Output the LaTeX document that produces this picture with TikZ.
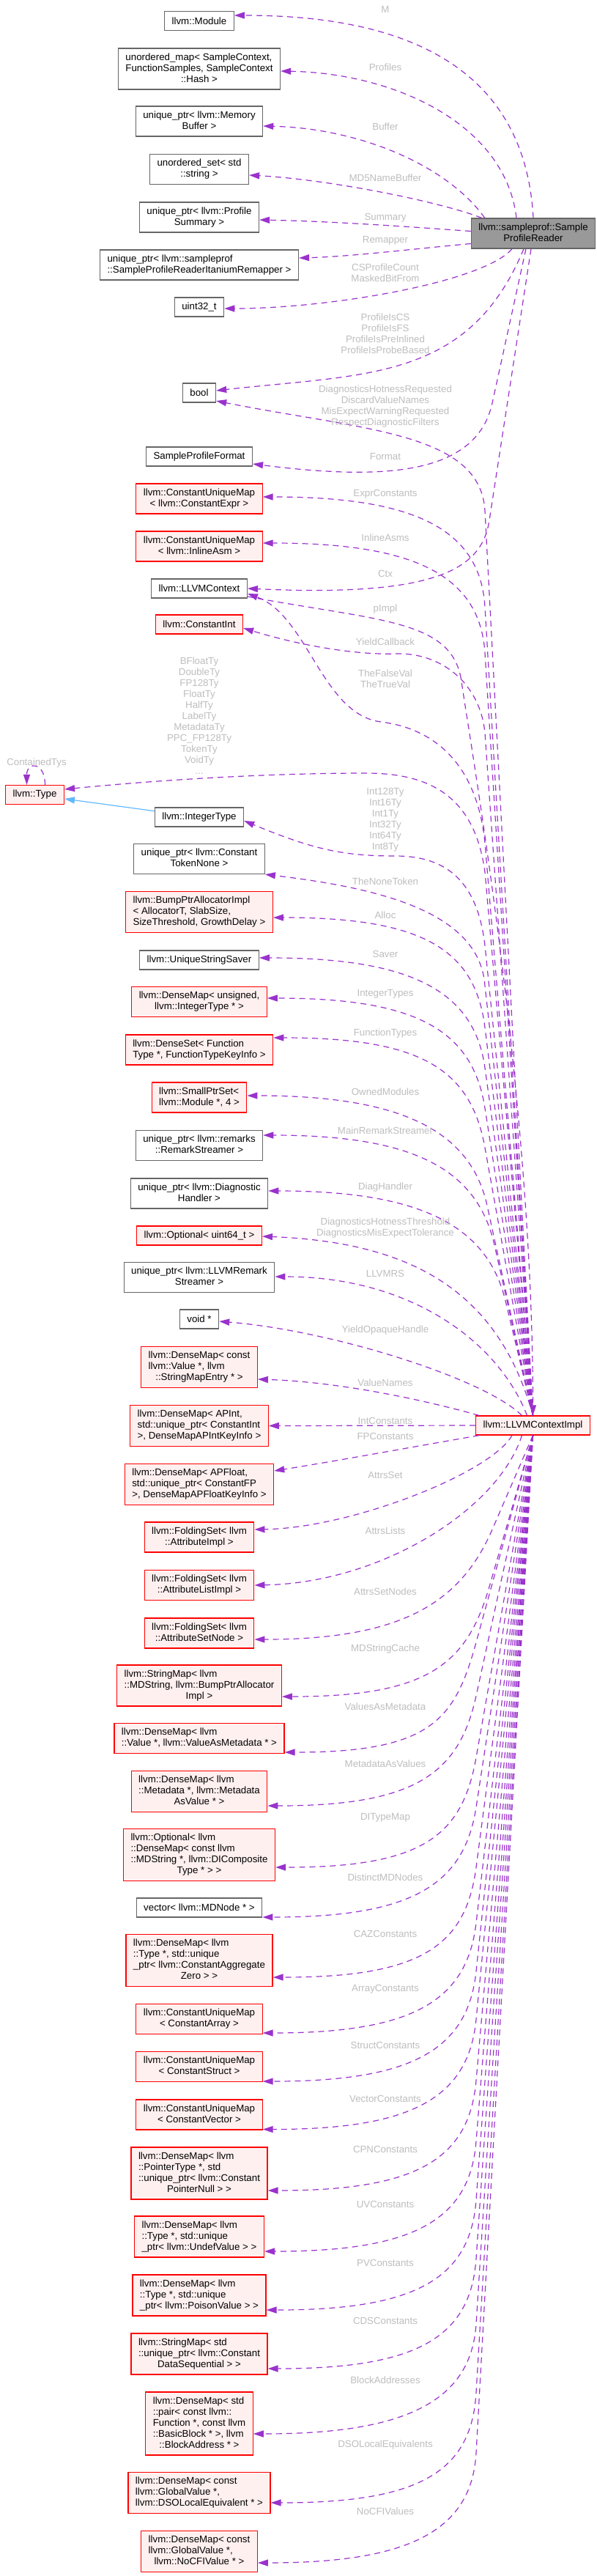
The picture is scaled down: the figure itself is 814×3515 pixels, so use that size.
\documentclass[tikz,border=0pt]{standalone}
\usepackage{fontspec}
\setmainfont{Liberation Sans}
\usetikzlibrary{arrows.meta,calc}

\definecolor{depc}{HTML}{9A32CD}
\definecolor{inhc}{HTML}{63B8FF}
\definecolor{lblc}{HTML}{BEBEBE}
\definecolor{redfill}{HTML}{FFF0F0}
\definecolor{grayline}{HTML}{666666}
\definecolor{grayfill}{HTML}{999999}

\newcommand{\dfont}{\fontsize{13.3}{15}\selectfont}
% lines of a class name: all left but the last, which is centred
\newcommand{\ml}[2]{\begin{tabular}{@{}l@{}}#1\\\multicolumn{1}{@{}c@{}}{#2}\end{tabular}}
% member edge from LLVMContextImpl up to a type: target, tip offset, bend x
\newcommand{\updep}[3]{%
  \coordinate (tip) at ($(#1.east)+(0,#2)$);
  \path (tip) ++(0,150) coordinate (bendy);
  \coordinate (bend) at (#3,0 |- bendy);
  \draw[dep] (impl.north) -- (bend)
    .. controls ($(bend)!-110pt!(impl.north)$) and +(200,0) .. (tip);}
% member edge from LLVMContextImpl down to a type
\newcommand{\downdep}[3]{%
  \coordinate (tip) at ($(#1.east)+(0,#2)$);
  \path (tip) ++(0,-150) coordinate (bendy);
  \coordinate (bend) at (#3,0 |- bendy);
  \draw[dep] (impl.south) -- (bend)
    .. controls ($(bend)!-110pt!(impl.south)$) and +(200,0) .. (tip);}

\begin{document}
\begin{tikzpicture}[x=1pt, y=-1pt,
  member/.style={draw=grayline, fill=white, line width=1.2pt, font=\dfont,
    inner xsep=10pt, inner ysep=5.5pt, minimum height=26pt},
  redmember/.style={member, draw=red, fill=redfill},
  mainclass/.style={member, fill=grayfill},
  lbl/.style={text=lblc, font=\dfont, align=center, inner sep=0pt},
  dep/.style={depc, line width=1.2pt, dash pattern=on 8pt off 6pt,
    -{Triangle[length=14pt,width=9pt]}},
  inh/.style={inhc, line width=1.2pt, -{Triangle[length=14pt,width=9pt]}}
]
\path[use as bounding box, fill=white] (0,0) rectangle (814,3515);

% classes
\node[mainclass] (spr) at (728,318.5) {\ml{llvm::sampleprof::Sample}{ProfileReader}};
\node[redmember] (impl) at (727.5,1945) {llvm::LLVMContextImpl};

\node[member] (mod) at (272,28.5) {llvm::Module};
\node[member] (umap) at (272,94) {\ml{unordered\_map< SampleContext,\\FunctionSamples, SampleContext}{::Hash >}};
\node[member] (membuf) at (272,165.5) {\ml{unique\_ptr< llvm::Memory}{Buffer >}};
\node[member] (uset) at (272,231) {\ml{unordered\_set< std}{::string >}};
\node[member] (psum) at (272,296.5) {\ml{unique\_ptr< llvm::Profile}{Summary >}};
\node[member] (remap) at (272,361.5) {\ml{unique\_ptr< llvm::sampleprof}{::SampleProfileReaderItaniumRemapper >}};
\node[member] (uint) at (272,419) {uint32\_t};
\node[member] (bool) at (272,536) {bool};
\node[member] (fmt) at (272,623) {SampleProfileFormat};
\node[redmember] (cexpr) at (272,680.5) {\ml{llvm::ConstantUniqueMap}{< llvm::ConstantExpr >}};
\node[redmember] (casm) at (272,745.5) {\ml{llvm::ConstantUniqueMap}{< llvm::InlineAsm >}};
\node[member] (ctx) at (272,803) {llvm::LLVMContext};
\node[redmember] (cint) at (272,852) {llvm::ConstantInt};
\node[redmember] (type) at (47.5,1084.5) {llvm::Type};
\node[member] (itype) at (272,1115) {llvm::IntegerType};
\node[member] (tnone) at (272,1172) {\ml{unique\_ptr< llvm::Constant}{TokenNone >}};
\node[redmember] (alloc) at (272,1244.5) {\ml{llvm::BumpPtrAllocatorImpl\\< AllocatorT, SlabSize,}{SizeThreshold, GrowthDelay >}};
\node[member] (saver) at (272,1310) {llvm::UniqueStringSaver};
\node[redmember] (imap) at (272,1367) {\ml{llvm::DenseMap< unsigned,}{llvm::IntegerType * >}};
\node[redmember] (ftypes) at (272,1432.5) {\ml{llvm::DenseSet< Function}{Type *, FunctionTypeKeyInfo >}};
\node[redmember] (owned) at (272,1497.5) {\ml{llvm::SmallPtrSet<}{llvm::Module *, 4 >}};
\node[member] (rstream) at (272,1563) {\ml{unique\_ptr< llvm::remarks}{::RemarkStreamer >}};
\node[member] (diag) at (272,1628.5) {\ml{unique\_ptr< llvm::Diagnostic}{Handler >}};
\node[redmember] (opt64) at (272,1686) {llvm::Optional< uint64\_t >};
\node[member] (llvmrs) at (272,1743) {\ml{unique\_ptr< llvm::LLVMRemark}{Streamer >}};
\node[member] (voidp) at (272,1800) {void *};
\node[redmember] (vnames) at (272,1865.5) {\ml{llvm::DenseMap< const\\llvm::Value *, llvm}{::StringMapEntry * >}};
\node[redmember] (apint) at (272,1945.5) {\ml{llvm::DenseMap< APInt,\\std::unique\_ptr< ConstantInt}{>, DenseMapAPIntKeyInfo >}};
\node[redmember] (apfloat) at (272,2025.5) {\ml{llvm::DenseMap< APFloat,\\std::unique\_ptr< ConstantFP}{>, DenseMapAPFloatKeyInfo >}};
\node[redmember] (attrimpl) at (272,2097.5) {\ml{llvm::FoldingSet< llvm}{::AttributeImpl >}};
\node[redmember] (attrlist) at (272,2163) {\ml{llvm::FoldingSet< llvm}{::AttributeListImpl >}};
\node[redmember] (attrnode) at (272,2228.5) {\ml{llvm::FoldingSet< llvm}{::AttributeSetNode >}};
\node[redmember] (mdstr) at (272,2300) {\ml{llvm::StringMap< llvm\\::MDString, llvm::BumpPtrAllocator}{Impl >}};
\node[redmember] (vam) at (272,2372) {\ml{llvm::DenseMap< llvm}{::Value *, llvm::ValueAsMetadata * >}};
\node[redmember] (mav) at (272,2444.5) {\ml{llvm::DenseMap< llvm\\::Metadata *, llvm::Metadata}{AsValue * >}};
\node[redmember] (ditype) at (272,2531) {\ml{llvm::Optional< llvm\\::DenseMap< const llvm\\::MDString *, llvm::DIComposite}{Type * > >}};
\node[member] (mdnodes) at (272,2603) {vector< llvm::MDNode * >};
\node[redmember] (caz) at (272,2675) {\ml{llvm::DenseMap< llvm\\::Type *, std::unique\\\_ptr< llvm::ConstantAggregate}{Zero > >}};
\node[redmember] (carray) at (272,2755) {\ml{llvm::ConstantUniqueMap}{< ConstantArray >}};
\node[redmember] (cstruct) at (272,2820) {\ml{llvm::ConstantUniqueMap}{< ConstantStruct >}};
\node[redmember] (cvector) at (272,2885.5) {\ml{llvm::ConstantUniqueMap}{< ConstantVector >}};
\node[redmember] (cpn) at (272,2965.5) {\ml{llvm::DenseMap< llvm\\::PointerType *, std\\::unique\_ptr< llvm::Constant}{PointerNull > >}};
\node[redmember] (undef) at (272,3052) {\ml{llvm::DenseMap< llvm\\::Type *, std::unique}{\_ptr< llvm::UndefValue > >}};
\node[redmember] (poison) at (272,3132) {\ml{llvm::DenseMap< llvm\\::Type *, std::unique}{\_ptr< llvm::PoisonValue > >}};
\node[redmember] (cds) at (272,3212) {\ml{llvm::StringMap< std\\::unique\_ptr< llvm::Constant}{DataSequential > >}};
\node[redmember] (baddr) at (272,3307) {\ml{llvm::DenseMap< std\\::pair< const llvm::\\Function *, const llvm\\::BasicBlock * >, llvm}{::BlockAddress * >}};
\node[redmember] (dso) at (272,3401.5) {\ml{llvm::DenseMap< const\\llvm::GlobalValue *,}{llvm::DSOLocalEquivalent * >}};
\node[redmember] (nocfi) at (272,3481.5) {\ml{llvm::DenseMap< const\\llvm::GlobalValue *,}{llvm::NoCFIValue * >}};

% members of SampleProfileReader
\draw[dep] (spr.north) .. controls (715,60) and (500,21) .. ($(mod.east)+(0,-7.5)$);
\draw[dep] ($(spr.north)+(-23,0)$) .. controls (690,170) and (540,100) .. ($(umap.east)+(0,3)$);
\draw[dep] ($(spr.north west)+(19,0)$) .. controls (610,225) and (490,175) .. ($(membuf.east)+(0,6.5)$);
\draw[dep] ($(spr.north west)+(15,0)$) .. controls (600,275) and (450,245) .. ($(uset.east)+(0,8)$);
\draw[dep] ($(spr.west)+(0,-3)$) .. controls (540,308) and (450,302) .. ($(psum.east)+(0,3.5)$);
\draw[dep] ($(spr.west)+(0,14)$) .. controls (560,340) and (480,350) .. ($(remap.east)+(0,-9.5)$);
\draw[dep] ($(spr.south)+(-29,0)$) .. controls (660,385) and (450,421) .. ($(uint.east)+(0,2)$);
\draw[dep] ($(spr.south)+(-13,0)$) .. controls (640,520) and (500,510) .. ($(bool.east)+(0,-3)$);
\draw[dep] ($(spr.south)+(-10,0)$) -- (672,550) .. controls (650,650) and (520,655) .. ($(fmt.east)+(0,10)$);
\draw[dep] ($(spr.south)+(-3,0)$) -- (668,710) .. controls (658,775) and (600,815) .. (ctx.east);

% members of LLVMContextImpl, upwards
\draw[dep] (impl.north) -- (662,697) .. controls (656,590) and (497,587) .. ($(bool.east)+(0,11)$);
\updep{cexpr}{-2.5}{662}
\updep{casm}{-4.5}{662}
\draw[dep] (impl.north) -- (662,1000) .. controls (655,930) and (600,890) .. (540,892)
  .. controls (480,894) and (400,878) .. ($(cint.east)+(0,5)$);
\draw[dep] (impl.north) -- (662,1150) .. controls (652,1050) and (600,995) .. (520,985)
  .. controls (440,975) and (420,840) .. ($(ctx.east)+(0,7)$);
\draw[dep] ($(ctx.east)+(0,11)$) .. controls (520,848) and (618,845) .. (630,930)
  .. controls (642,1015) and (727.5,1500) .. (impl.north);
\draw[dep] (impl.north) -- (662,1190) .. controls (648,1085) and (585,1055) .. (500,1055)
  .. controls (350,1055) and (200,1066) .. ($(type.east)+(0,-7.5)$);
\draw[dep] (impl.north) -- (662,1290) .. controls (652,1205) and (612,1168) .. (540,1168)
  .. controls (470,1168) and (430,1160) .. ($(itype.east)+(0,5)$);
\draw[dep] (impl.north) -- (662,1345) .. controls (655,1245) and (520,1212) .. (tnone.south east);
\updep{alloc}{7.5}{662}
\updep{saver}{-3}{662}
\updep{imap}{-5}{662}
\updep{ftypes}{-16.5}{662}
\updep{owned}{-2.5}{665}
\updep{rstream}{-14}{675}
\updep{diag}{-3.5}{690}
\draw[dep] (impl.north) .. controls (680,1760) and (560,1695) .. ($(opt64.east)+(0,1)$);
\draw[dep] ($(impl.north)+(-8,0)$) .. controls (680,1830) and (560,1742) .. ($(llvmrs.east)+(0,-1)$);
\draw[dep] ($(impl.north)+(-15,0)$) .. controls (660,1880) and (450,1815) .. ($(voidp.east)+(0,3)$);
\draw[dep] ($(impl.north west)+(5,0)$) .. controls (560,1905) and (450,1885) .. ($(vnames.east)+(0,16.5)$);

% members of LLVMContextImpl, level and downwards
\draw[dep] (impl.west) -- (apint.east);
\draw[dep] ($(impl.south west)+(5,0)$) .. controls (560,1975) and (450,1995) .. ($(apfloat.east)+(0,-18.5)$);
\draw[dep] ($(impl.south west)+(50,0)$) .. controls (670,2010) and (480,2085) .. ($(attrimpl.east)+(0,-10.5)$);
\draw[dep] ($(impl.south)+(-15,0)$) .. controls (680,2060) and (520,2160) .. (attrlist.east);
\downdep{attrnode}{8.5}{672}
\downdep{mdstr}{15}{668}
\downdep{vam}{19}{650}
\downdep{mav}{19.5}{650}
\downdep{ditype}{17}{650}
\downdep{mdnodes}{13}{650}
\downdep{caz}{23}{650}
\downdep{carray}{19}{650}
\downdep{cstruct}{20}{650}
\downdep{cvector}{20}{650}
\downdep{cpn}{23.5}{650}
\downdep{undef}{20}{650}
\downdep{poison}{20}{650}
\downdep{cds}{20}{650}
\downdep{baddr}{14}{650}
\downdep{dso}{13.5}{650}
\downdep{nocfi}{15.5}{650}

% Type: base class and self member
\draw[inh] (itype) -- (type);
\draw[dep] ($(type.north)+(14,0)$) .. controls +(0,-32) and +(0,-32) .. ($(type.north)+(-11,0)$);

% edge labels
\node[lbl] (lM) at (526,13) {M};
\node[lbl] (lProfiles) at (526,92) {Profiles};
\node[lbl] (lBuffer) at (526,173) {Buffer};
\node[lbl] (lMD5) at (526,243) {MD5NameBuffer};
\node[lbl] (lSummary) at (526,297) {Summary};
\node[lbl] (lRemapper) at (526,328) {Remapper};
\node[lbl] (lCSP) at (526,372) {CSProfileCount\\MaskedBitFrom};
\node[lbl] (lProfIs) at (526,455.5) {ProfileIsCS\\ProfileIsFS\\ProfileIsPreInlined\\ProfileIsProbeBased};
\node[lbl] (lDiagReq) at (526,555) {DiagnosticsHotnessRequested\\DiscardValueNames\\MisExpectWarningRequested\\RespectDiagnosticFilters};
\node[lbl] (lFormat) at (526,623) {Format};
\node[lbl] (lExpr) at (526,674) {ExprConstants};
\node[lbl] (lAsm) at (526,734) {InlineAsms};
\node[lbl] (lCtx) at (526,783) {Ctx};
\node[lbl] (lpImpl) at (526,831) {pImpl};
\node[lbl] (lYield) at (526,876) {YieldCallback};
\node[lbl] (lBoolVal) at (526,926.5) {TheFalseVal\\TheTrueVal};
\node[lbl] (lTys) at (272,976.5) {BFloatTy\\DoubleTy\\FP128Ty\\FloatTy\\HalfTy\\LabelTy\\MetadataTy\\PPC\_FP128Ty\\TokenTy\\VoidTy\\...};
\node[lbl] (lContained) at (50,1041) {ContainedTys};
\node[lbl] (lIntTys) at (526,1118.5) {Int128Ty\\Int16Ty\\Int1Ty\\Int32Ty\\Int64Ty\\Int8Ty};
\node[lbl] (lNone) at (526,1203) {TheNoneToken};
\node[lbl] (lAlloc) at (526,1249) {Alloc};
\node[lbl] (lSaver) at (526,1302) {Saver};
\node[lbl] (lIntTypes) at (526,1356) {IntegerTypes};
\node[lbl] (lFunTypes) at (526,1410) {FunctionTypes};
\node[lbl] (lOwned) at (526,1490) {OwnedModules};
\node[lbl] (lMainRS) at (526,1543) {MainRemarkStreamer};
\node[lbl] (lDiagH) at (526,1620) {DiagHandler};
\node[lbl] (lDiagThr) at (526,1675.5) {DiagnosticsHotnessThreshold\\DiagnosticsMisExpectTolerance};
\node[lbl] (lLLVMRS) at (526,1738) {LLVMRS};
\node[lbl] (lOpaque) at (526,1815) {YieldOpaqueHandle};
\node[lbl] (lVNames) at (526,1887) {ValueNames};
\node[lbl] (lIntC) at (526,1939) {IntConstants};
\node[lbl] (lFPC) at (526,1960) {FPConstants};
\node[lbl] (lAttrsSet) at (526,2013) {AttrsSet};
\node[lbl] (lAttrsLists) at (526,2089) {AttrsLists};
\node[lbl] (lAttrsNodes) at (526,2172) {AttrsSetNodes};
\node[lbl] (lMDStr) at (526,2250) {MDStringCache};
\node[lbl] (lVAM) at (526,2329) {ValuesAsMetadata};
\node[lbl] (lMAV) at (526,2407) {MetadataAsValues};
\node[lbl] (lDIType) at (526,2480) {DITypeMap};
\node[lbl] (lDistinct) at (526,2562) {DistinctMDNodes};
\node[lbl] (lCAZ) at (526,2639) {CAZConstants};
\node[lbl] (lArray) at (526,2714) {ArrayConstants};
\node[lbl] (lStruct) at (526,2791) {StructConstants};
\node[lbl] (lVector) at (526,2864) {VectorConstants};
\node[lbl] (lCPN) at (526,2933) {CPNConstants};
\node[lbl] (lUV) at (526,3008) {UVConstants};
\node[lbl] (lPV) at (526,3088) {PVConstants};
\node[lbl] (lCDS) at (526,3167) {CDSConstants};
\node[lbl] (lBlock) at (526,3248) {BlockAddresses};
\node[lbl] (lDSO) at (526,3336) {DSOLocalEquivalents};
\node[lbl] (lNoCFI) at (526,3427) {NoCFIValues};
\end{tikzpicture}
\end{document}
